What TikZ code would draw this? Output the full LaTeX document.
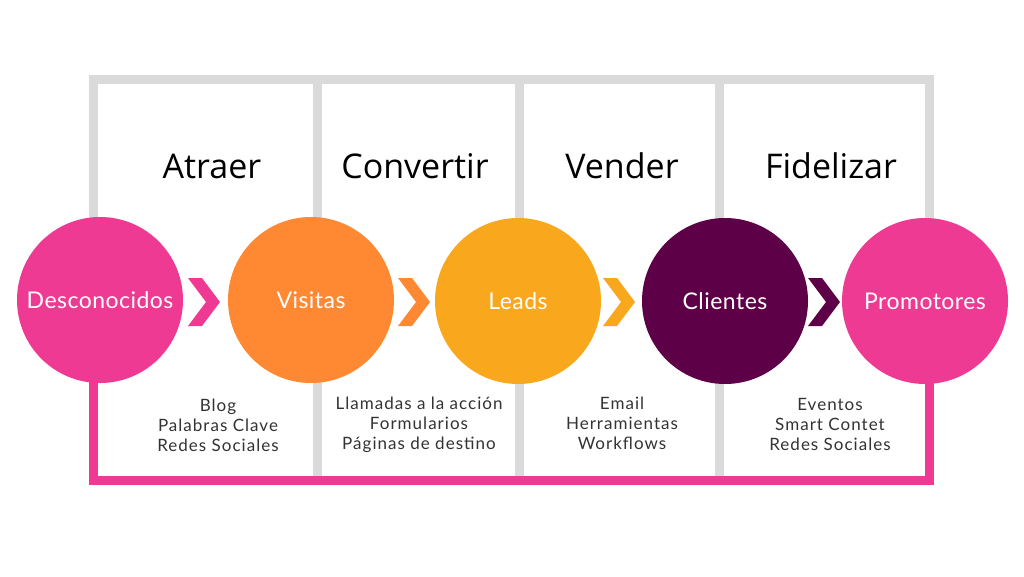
\documentclass[tikz,border=0pt]{standalone}
\usepackage{fontspec}
\setmainfont{Open Sans}
\newfontfamily\stagefont[LetterSpace=2]{Lato}
\newfontfamily\toolfont[LetterSpace=6]{Lato}
\usepackage{tikz}
\definecolor{framegray}{HTML}{DADADA}
\definecolor{funnelpink}{HTML}{EE3A93}
\definecolor{funnelorange}{HTML}{FF8833}
\definecolor{funnelamber}{HTML}{F9A81E}
\definecolor{funnelpurple}{HTML}{5E0048}
\definecolor{tooltext}{HTML}{333333}
\tikzset{
  stage/.style={circle, minimum size=166pt, inner sep=0pt, text=white,
    font=\stagefont\fontsize{23}{27}\selectfont},
  phase/.style={font=\fontsize{34}{40}\selectfont, text=black},
  tools/.style={align=center, text=tooltext,
    font=\toolfont\fontsize{17}{20}\selectfont},
}

\begin{document}
\begin{tikzpicture}[x=1pt, y=-1pt]
    \useasboundingbox (0,0) rectangle (1024,576);
    \fill[white] (0,0) rectangle (1024,576);
    % frame corners
    \coordinate (gl) at (93.5,79.5);
    \coordinate (gr) at (929.5,79.5);
    \coordinate (pl) at (93.5,480);
    \coordinate (pr) at (929.5,480);
    % dividers
    \foreach \x/\n in {317.5/a, 519.5/b, 719.5/c} {
      \coordinate (top-\n) at (\x,79.5);
      \coordinate (bot-\n) at (\x,476);
      \draw[framegray, line width=9pt] (top-\n) -- (bot-\n);
    }
    \draw[framegray, line width=9pt] (93.5,230) -- (gl) -- (gr) -- (929.5,230);
    \draw[funnelpink, line width=9pt] (93.5,370) -- (pl) -- (pr) -- (929.5,370);
    % stages
    \node[stage, fill=funnelpink] (desc) at (100,300) {Desconocidos};
    \node[stage, fill=funnelorange] (visit) at (311,300) {Visitas};
    \node[stage, fill=funnelamber] (leads) at (518,301) {Leads};
    \node[stage, fill=funnelpurple] (client) at (725,301) {Clientes};
    \node[stage, fill=funnelpink] (promo) at (925,301) {Promotores};
    % chevrons
    \foreach \x/\c in {188/funnelpink, 398/funnelorange, 603/funnelamber, 808/funnelpurple}
      \fill[\c] (\x,278) -- ++(14,0) -- ++(18,24) -- ++(-18,24) -- ++(-14,0)
        -- ++(18,-24) -- cycle;
    % phases
    \node[phase, anchor=base] (atraer) at (212,178) {Atraer};
    \node[phase, anchor=base] (convertir) at (415,178) {Convertir};
    \node[phase, anchor=base] (vender) at (622,178) {Vender};
    \node[phase, anchor=base] (fidelizar) at (831,178) {Fidelizar};
    % tools
    \node[tools] (tools-a) at (218,425) {Blog\\Palabras Clave\\Redes Sociales};
    \node[tools] (tools-b) at (419,425) {Llamadas a la acción\\Formularios\\Páginas de destino};
    \node[tools] (tools-c) at (622,423) {Email\\Herramientas\\Workflows};
    \node[tools] (tools-d) at (830,424) {Eventos\\Smart Contet\\Redes Sociales};
\end{tikzpicture}
\end{document}
